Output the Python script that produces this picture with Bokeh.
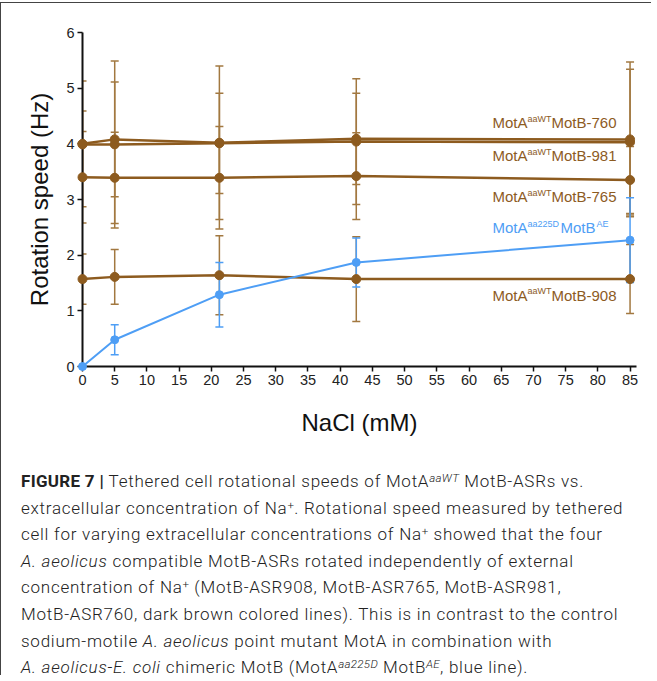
from bokeh.plotting import figure
from bokeh.models import (ColumnDataSource, Whisker, TeeHead, Label, Range1d,
                          FixedTicker, Div)
from bokeh.layouts import column
from bokeh.embed import file_html
from bokeh.resources import INLINE

# ---------------- data ----------------
nacl = [0, 5, 21.25, 42.5, 85]

m760 = [4.00, 4.08, 4.02, 4.09, 4.08]
e760 = [1.13, 1.03, 1.38, 0.82, 1.39]
m981 = [3.99, 3.99, 4.01, 4.04, 4.03]
e981 = [0.60, 1.50, 0.90, 1.13, 1.31]
m765 = [3.40, 3.39, 3.39, 3.42, 3.35]
e765 = [0.82, 0.82, 0.92, 0.78, 0.60]
m908 = [1.57, 1.61, 1.64, 1.57, 1.57]
e908 = [0.45, 0.49, 0.71, 0.76, 0.62]
m_ae = [0.00, 0.48, 1.29, 1.87, 2.27]
e_ae = [0.00, 0.27, 0.58, 0.44, 0.76]

x_ticks = [0, 5, 10, 15, 20, 25, 30, 35, 40, 45, 50, 55, 60, 65, 70, 75, 80, 85]
y_ticks = [0, 1, 2, 3, 4, 5, 6]

brown_names = ["MotB-760", "MotB-981", "MotB-765", "MotB-908"]
brown_label_y = [4.38, 3.79, 3.05, 1.28]
blue_label_y = 2.49
label_x = 63.65

BROWN = "#8D5B1F"
BROWN_ERR = "#A27840"
BLUE = "#4E9EF5"
FONT = "Liberation Sans"

p = figure(width=640, height=463, output_backend="svg", toolbar_location=None,
           x_range=Range1d(0, 86), y_range=Range1d(0, 6),
           min_border_left=81, min_border_right=5, min_border_top=29,
           min_border_bottom=100)
p.outline_line_color = None
p.grid.grid_line_color = None

for ax in (p.xaxis[0], p.yaxis[0]):
    ax.axis_line_width = 2
    ax.axis_line_color = "#111111"
    ax.major_tick_line_width = 1.5
    ax.major_tick_line_color = "#111111"
    ax.major_tick_out = 5
    ax.major_tick_in = 0
    ax.minor_tick_line_color = None
    ax.major_label_text_font = FONT
    ax.major_label_text_font_size = "14.5px"
    ax.major_label_text_color = "#222222"
    ax.axis_label_text_font = FONT
    ax.axis_label_text_font_style = "normal"
    ax.axis_label_text_font_size = "24px"
    ax.axis_label_text_color = "#111111"
    ax.major_label_standoff = 3

p.xaxis.ticker = FixedTicker(ticks=x_ticks)
p.yaxis.ticker = FixedTicker(ticks=y_ticks)
p.xaxis.axis_label = "NaCl (mM)"
p.yaxis.axis_label = "Rotation speed (Hz)"
p.xaxis.axis_label_standoff = 21
p.yaxis.axis_label_standoff = 10


def add_series(means, errs, color, err_color, lw, size):
    lo = [m - e for m, e in zip(means, errs) if e > 0]
    hi = [m + e for m, e in zip(means, errs) if e > 0]
    bx = [x for x, e in zip(nacl, errs) if e > 0]
    src = ColumnDataSource(dict(x=bx, lo=lo, hi=hi))
    w = Whisker(source=src, base="x", lower="lo", upper="hi",
                line_color=err_color, line_width=1.5,
                upper_head=TeeHead(size=8, line_color=err_color, line_width=1.5),
                lower_head=TeeHead(size=8, line_color=err_color, line_width=1.5))
    p.add_layout(w)
    p.line(nacl, means, line_color=color, line_width=lw, level="overlay")
    p.scatter(nacl, means, size=size, fill_color=color, line_color=color,
              level="overlay")


for m, e in ((m908, e908), (m765, e765), (m981, e981), (m760, e760)):
    add_series(m, e, BROWN, BROWN_ERR, 2.5, 9)
add_series(m_ae, e_ae, BLUE, BLUE, 2, 8)


def composite_label(y, parts, color):
    off = 0
    for txt, size, dy, w in parts:
        p.add_layout(Label(x=label_x, y=y, x_offset=off, y_offset=dy, text=txt,
                           text_font=FONT, text_font_size=size,
                           text_color=color, text_baseline="middle",
                           text_align="left"))
        off += w


for name, y in zip(brown_names, brown_label_y):
    composite_label(y, [("MotA", "15px", 0, 35.0),
                        ("aaWT", "9px", 4, 24.0),
                        (name, "15px", 0, 0)], BROWN)

composite_label(blue_label_y, [("MotA", "15px", 0, 35.0),
                               ("aa225D", "9px", 4, 33.0),
                               ("MotB", "15px", 0, 36.0),
                               ("AE", "9px", 4, 0)], BLUE)

sup = 'style="font-size:68%;line-height:0;vertical-align:0.45em;letter-spacing:0.3px"'
caption_html = f"""<div style="font-family:Roboto;font-weight:300;font-size:17px;letter-spacing:0.75px;line-height:26.6px;color:#222;white-space:nowrap;padding-left:15px;margin-top:-3px">
<b style="font-weight:700;letter-spacing:0.3px">FIGURE 7 |</b> Tethered cell rotational speeds of MotA<span {sup}><i>aaWT</i></span> MotB-ASRs vs.<br>
extracellular concentration of Na<span {sup}>+</span>. Rotational speed measured by tethered<br>
cell for varying extracellular concentrations of Na<span {sup}>+</span> showed that the four<br>
<i>A. aeolicus</i> compatible MotB-ASRs rotated independently of external<br>
concentration of Na<span {sup}>+</span> (MotB-ASR908, MotB-ASR765, MotB-ASR981,<br>
MotB-ASR760, dark brown colored lines). This is in contrast to the control<br>
sodium-motile <i>A. aeolicus</i> point mutant MotA in combination with<br>
<i>A. aeolicus-E. coli</i> chimeric MotB (MotA<span {sup}><i>aa225D</i></span> MotB<span {sup}><i>AE</i></span>, blue line).
</div>"""
cap = Div(text=caption_html, width=640, height=199)

layout = column(p, cap, styles={"border-left": "1px solid #444",
                                "border-top": "1px solid #444",
                                "margin-top": "2px"})

open("out.html", "w").write(file_html(layout, INLINE))
